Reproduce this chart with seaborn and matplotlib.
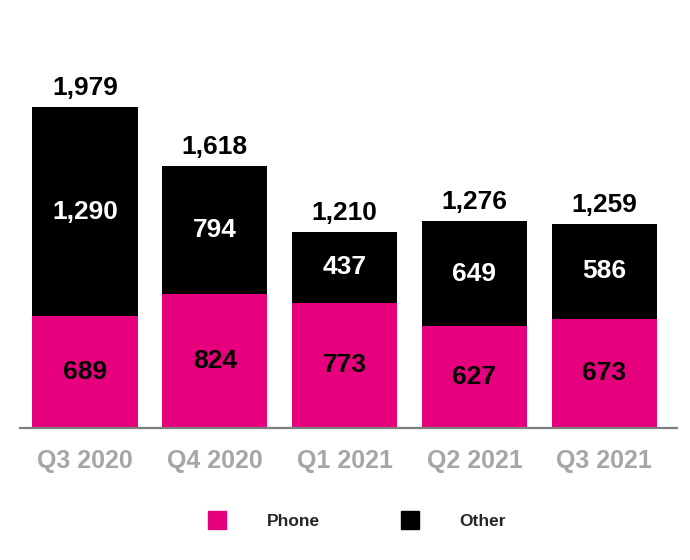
import matplotlib
matplotlib.use("Agg")
import matplotlib.pyplot as plt
from matplotlib.lines import Line2D
import seaborn as sns
import pandas as pd

quarters = ["Q3 2020", "Q4 2020", "Q1 2021", "Q2 2021", "Q3 2021"]
phone = [689, 824, 773, 627, 673]
other = [1290, 794, 437, 649, 586]
total = [p + o for p, o in zip(phone, other)]

PINK = "#e6007e"
df = pd.DataFrame({"quarter": quarters, "phone": phone, "other": other, "total": total})

sns.set_theme(style="white")
plt.rcParams['font.family'] = ['Liberation Sans', 'DejaVu Sans']

fig = plt.figure(figsize=(6.9, 5.6), dpi=100)
ax = fig.add_axes([20 / 690, 132 / 560, 657 / 690, 388 / 560])

sns.barplot(data=df, x="quarter", y="total", color="black", width=0.81,
            saturation=1, linewidth=0, ax=ax)
sns.barplot(data=df, x="quarter", y="phone", color=PINK, width=0.81,
            saturation=1, linewidth=0, ax=ax)

for i in range(len(quarters)):
    ax.text(i, total[i] + 74, f"{total[i]:,}", ha="center", va="baseline",
            fontsize=19, fontweight="bold", color="black")
    ax.text(i, phone[i] + other[i] / 2, f"{other[i]:,}", ha="center", va="center",
            fontsize=19, fontweight="bold", color="white")
    ax.text(i, phone[i] / 2, f"{phone[i]:,}", ha="center", va="center",
            fontsize=19, fontweight="bold", color="black")

ax.set_xlim(-0.5, 4.56)
ax.set_ylim(0, 2392)
ax.set_xlabel("")
ax.set_ylabel("")
ax.set_yticks([])
for s in ["top", "right", "left"]:
    ax.spines[s].set_visible(False)
ax.spines["bottom"].set_color("#7f7f7f")
ax.spines["bottom"].set_linewidth(1.6)
ax.tick_params(axis="x", length=0, pad=15, labelsize=18, labelcolor="#a6a6a6")
for lab in ax.get_xticklabels():
    lab.set_fontweight("bold")

handles = [Line2D([], [], marker="s", linestyle="", markersize=13, color=PINK),
           Line2D([], [], marker="s", linestyle="", markersize=13, color="black")]
leg = fig.legend(handles, ["Phone", "Other"], loc="center", bbox_to_anchor=(353 / 690, 39 / 560),
                 ncol=2, frameon=False, handletextpad=1.87, columnspacing=4.15,
                 prop={"weight": "bold", "size": 12.5})

fig.savefig("out.png", dpi=100)
